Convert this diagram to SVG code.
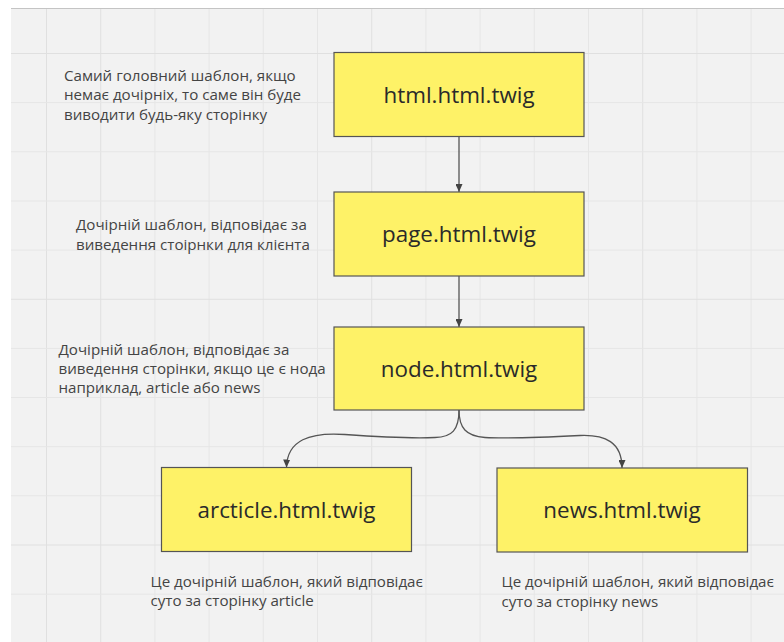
<svg xmlns="http://www.w3.org/2000/svg" width="784" height="642" viewBox="0 0 784 642">
  <defs>
    <style>
      .grid line { stroke: #e6e6e6; stroke-width: 1; }
      .grid line.major { stroke: #e0e0e0; }
      .node rect { fill: #fef267; stroke: #555555; stroke-width: 1.2; }
      .node text { font-family: "Open Sans", "Noto Sans", sans-serif; font-size: 22.4px; fill: #2a2a2a; text-anchor: middle; }
      .note text { font-family: "Open Sans", "Noto Sans", sans-serif; font-size: 14px; fill: #444444; }
      .edge { fill: none; stroke: #555555; stroke-width: 1.3; }
    </style>
    <marker id="arrow" viewBox="0 0 8 7" refX="8" refY="3.5" markerWidth="8" markerHeight="7" markerUnits="userSpaceOnUse" orient="auto">
      <path d="M0,0 L8,3.5 L0,7 Z" fill="#444444"/>
    </marker>
  </defs>

  <!-- canvas -->
  <rect x="0" y="0" width="784" height="642" fill="#ffffff"/>
  <rect x="11" y="8.5" width="773" height="633.5" fill="#f2f2f2"/>
  <line x1="11" y1="8.5" x2="784" y2="8.5" stroke="#c4c4c4" stroke-width="1"/>

  <!-- background grid -->
  <g class="grid">
    <line class="major" x1="46.5" y1="9" x2="46.5" y2="642"/>
    <line class="major" x1="100.7" y1="9" x2="100.7" y2="642"/>
    <line x1="154.9" y1="9" x2="154.9" y2="642"/>
    <line x1="209.1" y1="9" x2="209.1" y2="642"/>
    <line x1="263.3" y1="9" x2="263.3" y2="642"/>
    <line x1="317.5" y1="9" x2="317.5" y2="642"/>
    <line class="major" x1="371.7" y1="9" x2="371.7" y2="642"/>
    <line x1="425.9" y1="9" x2="425.9" y2="642"/>
    <line x1="480.1" y1="9" x2="480.1" y2="642"/>
    <line x1="534.3" y1="9" x2="534.3" y2="642"/>
    <line x1="588.5" y1="9" x2="588.5" y2="642"/>
    <line class="major" x1="642.7" y1="9" x2="642.7" y2="642"/>
    <line x1="696.9" y1="9" x2="696.9" y2="642"/>
    <line x1="751.1" y1="9" x2="751.1" y2="642"/>

    <line class="major" x1="11" y1="53.5" x2="784" y2="53.5"/>
    <line x1="11" y1="102.6" x2="784" y2="102.6"/>
    <line x1="11" y1="151.8" x2="784" y2="151.8"/>
    <line x1="11" y1="201" x2="784" y2="201"/>
    <line x1="11" y1="250.1" x2="784" y2="250.1"/>
    <line class="major" x1="11" y1="299.3" x2="784" y2="299.3"/>
    <line x1="11" y1="348.4" x2="784" y2="348.4"/>
    <line x1="11" y1="397.5" x2="784" y2="397.5"/>
    <line x1="11" y1="446.7" x2="784" y2="446.7"/>
    <line x1="11" y1="495.8" x2="784" y2="495.8"/>
    <line class="major" x1="11" y1="545" x2="784" y2="545"/>
    <line x1="11" y1="594.2" x2="784" y2="594.2"/>
  </g>

  <!-- connectors -->
  <g id="connectors">
    <path class="edge" d="M459,136.5 L459,192" marker-end="url(#arrow)"/>
    <path class="edge" d="M459,276 L459,327" marker-end="url(#arrow)"/>
    <path class="edge" d="M459,410 C459,430 452,437 435,437.5 C410,438.5 380,437 345,434.5 C310,432 287,440 286.5,467.5" marker-end="url(#arrow)"/>
    <path class="edge" d="M459,410 C459,428 466,436 485,437.5 C510,439 550,437 580,435.5 C605,434.5 622,442 622,468" marker-end="url(#arrow)"/>
  </g>

  <!-- template nodes -->
  <g id="node-html" class="node">
    <rect x="334" y="52.5" width="250" height="84"/>
    <text x="459" y="102.5">html.html.twig</text>
  </g>
  <g id="node-page" class="node">
    <rect x="334" y="192" width="250" height="84"/>
    <text x="459" y="242">page.html.twig</text>
  </g>
  <g id="node-node" class="node">
    <rect x="334" y="327" width="250" height="83"/>
    <text x="459" y="376.5">node.html.twig</text>
  </g>
  <g id="node-article" class="node">
    <rect x="161.5" y="467.5" width="250" height="84"/>
    <text x="286.5" y="517.5">arcticle.html.twig</text>
  </g>
  <g id="node-news" class="node">
    <rect x="497" y="468" width="250.5" height="84"/>
    <text x="622" y="518">news.html.twig</text>
  </g>

  <!-- notes (slightly widened lettering) -->
  <g id="note-html" class="note" transform="translate(64,0) scale(1.08,1)">
    <text x="0" y="81">Самий головний шаблон, якщо</text>
    <text x="0" y="100.5">немає дочірніх, то саме він буде</text>
    <text x="0" y="120">виводити будь-яку сторінку</text>
  </g>
  <g id="note-page" class="note" transform="translate(76,0) scale(1.08,1)">
    <text x="0" y="230">Дочірній шаблон, відповідає за</text>
    <text x="0" y="249.5">виведення стоірнки для клієнта</text>
  </g>
  <g id="note-node" class="note" transform="translate(58.5,0) scale(1.08,1)">
    <text x="0" y="355">Дочірній шаблон, відповідає за</text>
    <text x="0" y="374.3">виведення сторінки, якщо це є нода</text>
    <text x="0" y="393.5">наприклад, article або news</text>
  </g>
  <g id="note-article" class="note" transform="translate(150.5,0) scale(1.08,1)">
    <text x="0" y="586.7">Це дочірній шаблон, який відповідає</text>
    <text x="0" y="606">суто за сторінку article</text>
  </g>
  <g id="note-news" class="note" transform="translate(501.5,0) scale(1.08,1)">
    <text x="0" y="587.5">Це дочірній шаблон, який відповідає</text>
    <text x="0" y="606.7">суто за сторінку news</text>
  </g>
</svg>
